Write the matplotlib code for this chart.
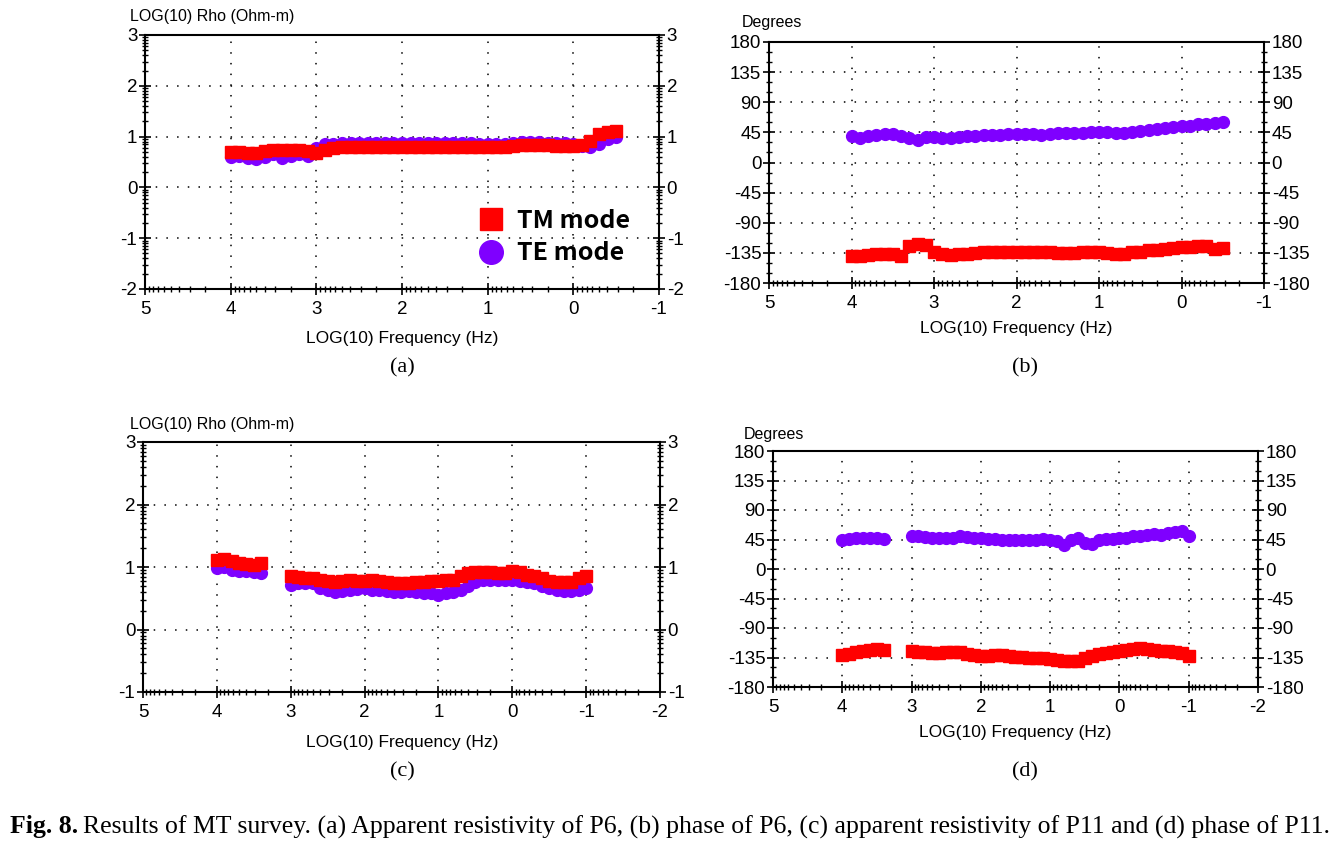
import numpy as np
import matplotlib
matplotlib.use("Agg")
import matplotlib.pyplot as plt
from matplotlib.lines import Line2D

plt.rcParams['font.family'] = 'Liberation Sans'
plt.rcParams['axes.unicode_minus'] = False

W, H = 1339, 842

# ---- station P6 : panels (a) and (b) ----
freq_p6 = [4.0, 3.9, 3.8, 3.7, 3.6, 3.5, 3.4, 3.3, 3.2, 3.1,
           3.0, 2.9, 2.8, 2.7, 2.6, 2.5, 2.4, 2.3, 2.2, 2.1,
           2.0, 1.9, 1.8, 1.7, 1.6, 1.5, 1.4, 1.3, 1.2, 1.1,
           1.0, 0.9, 0.8, 0.7, 0.6, 0.5, 0.4, 0.3, 0.2, 0.1,
           0.0, -0.1, -0.2, -0.3, -0.4, -0.5]
rho_tm_p6 = [0.70, 0.70, 0.68, 0.68, 0.72, 0.74, 0.74, 0.74, 0.74, 0.72,
             0.68, 0.74, 0.78, 0.80, 0.80, 0.80, 0.80, 0.80, 0.79, 0.80,
             0.80, 0.80, 0.79, 0.79, 0.79, 0.79, 0.79, 0.79, 0.79, 0.79,
             0.79, 0.80, 0.80, 0.82, 0.84, 0.84, 0.84, 0.84, 0.82, 0.82,
             0.82, 0.84, 0.92, 1.05, 1.10, 1.12]
rho_te_p6 = [0.60, 0.62, 0.58, 0.55, 0.60, 0.65, 0.58, 0.62, 0.66, 0.62,
             0.78, 0.86, 0.86, 0.87, 0.87, 0.88, 0.88, 0.88, 0.87, 0.88,
             0.88, 0.87, 0.88, 0.88, 0.88, 0.87, 0.87, 0.87, 0.87, 0.86,
             0.86, 0.85, 0.85, 0.88, 0.89, 0.90, 0.89, 0.88, 0.88, 0.87,
             0.86, 0.82, 0.80, 0.86, 0.95, 1.00]
phs_tm_p6 = [-140, -139, -138, -137, -137, -137, -139, -124, -121, -123,
             -133, -137, -138, -137, -136, -135, -134, -134, -134, -134,
             -134, -133, -134, -133, -134, -135, -135, -135, -134, -133,
             -134, -135, -137, -136, -134, -133, -131, -130, -129, -127,
             -126, -126, -124, -125, -129, -128]
phs_te_p6 = [40, 36, 39, 41, 43, 43, 40, 36, 33, 38,
             38, 37, 37, 38, 39, 40, 41, 41, 41, 42,
             42, 42, 43, 41, 43, 44, 44, 44, 44, 45,
             45, 45, 44, 44, 45, 47, 49, 50, 51, 53,
             54, 55, 57, 58, 59, 60]

# ---- station P11 : panels (c) and (d) ----
freq_p11 = [4.0, 3.9, 3.8, 3.7, 3.6, 3.5, 3.4,
            3.0, 2.9, 2.8, 2.7, 2.6, 2.5, 2.4, 2.3, 2.2, 2.1,
            2.0, 1.9, 1.8, 1.7, 1.6, 1.5, 1.4, 1.3, 1.2, 1.1,
            1.0, 0.9, 0.8, 0.7, 0.6, 0.5, 0.4, 0.3, 0.2, 0.1,
            0.0, -0.1, -0.2, -0.3, -0.4, -0.5, -0.6, -0.7, -0.8, -0.9,
            -1.0]
rho_tm_p11 = [1.12, 1.13, 1.10, 1.06, 1.05, 1.03, 1.06,
              0.86, 0.84, 0.82, 0.82, 0.80, 0.77, 0.76, 0.78, 0.79, 0.78,
              0.78, 0.79, 0.78, 0.76, 0.75, 0.75, 0.75, 0.76, 0.76, 0.77,
              0.78, 0.80, 0.80, 0.86, 0.90, 0.92, 0.92, 0.92, 0.91, 0.91,
              0.94, 0.92, 0.88, 0.86, 0.82, 0.78, 0.76, 0.76, 0.76, 0.82,
              0.86]
rho_te_p11 = [0.98, 1.00, 0.96, 0.94, 0.93, 0.92, 0.90,
              0.72, 0.74, 0.75, 0.74, 0.66, 0.63, 0.60, 0.62, 0.64, 0.65,
              0.66, 0.64, 0.63, 0.62, 0.60, 0.60, 0.61, 0.60, 0.59, 0.58,
              0.56, 0.58, 0.60, 0.64, 0.70, 0.76, 0.80, 0.80, 0.80, 0.80,
              0.80, 0.78, 0.76, 0.74, 0.70, 0.66, 0.64, 0.62, 0.62, 0.64,
              0.66]
phs_tm_p11 = [-131, -129, -126, -125, -124, -122, -123,
              -125, -126, -127, -128, -128, -127, -127, -127, -129, -131,
              -132, -132, -131, -131, -133, -134, -134, -135, -135, -135,
              -137, -139, -140, -141, -140, -136, -133, -130, -128, -126,
              -125, -123, -122, -120, -122, -124, -125, -125, -126, -128,
              -133]
phs_te_p11 = [45, 46, 48, 47, 48, 48, 46,
              50, 50, 49, 48, 48, 47, 48, 50, 49, 48,
              47, 46, 46, 45, 44, 45, 45, 44, 45, 46,
              45, 42, 36, 45, 48, 40, 38, 44, 46, 46,
              47, 48, 50, 51, 52, 53, 52, 55, 56, 58,
              50]

TM_COLOR = '#ff0000'
TE_COLOR = '#7f00ff'

fig = plt.figure(figsize=(W / 100, H / 100), dpi=100)


def px_axes(left, top, right, bottom):
    return fig.add_axes([left / W, 1 - bottom / H, (right - left) / W, (bottom - top) / H])


def log_minor(lo, hi):
    out = []
    for n in range(int(np.floor(lo)), int(np.ceil(hi))):
        for k in range(2, 10):
            out.append(n + np.log10(k))
    return out


def style(ax, xlim, ylim, yticks, yminor):
    ax.set_xlim(xlim)
    ax.set_ylim(ylim)
    lo, hi = min(xlim), max(xlim)
    ax.set_xticks(range(int(lo), int(hi) + 1))
    ax.set_xticks(log_minor(lo, hi), minor=True)
    ax.set_yticks(yticks)
    ax.set_yticks(yminor, minor=True)
    ax.grid(True, which='major', color='k', linestyle=(0, (1, 6)), linewidth=1.1)
    ax.tick_params(which='both', direction='inout', left=True, right=True,
                   labelleft=True, labelright=True, top=False, labelsize=13.5,
                   pad=1, colors='k')
    ax.tick_params(which='major', length=9, width=1.2)
    ax.tick_params(which='minor', length=5, width=1.0)
    ax.tick_params(axis='x', pad=4)
    for s in ax.spines.values():
        s.set_linewidth(1.5)
        s.set_color('k')


def plot_pair(ax, x, tm, te):
    ax.plot(x, te, 'o', color=TE_COLOR, ms=8.5, mec=TE_COLOR, zorder=3)
    ax.plot(x, tm, 's', color=TM_COLOR, ms=8.5, mec=TM_COLOR, zorder=4)


rho_ticks_a = [-2, -1, 0, 1, 2, 3]
rho_ticks_c = [-1, 0, 1, 2, 3]
phs_ticks = [-180, -135, -90, -45, 0, 45, 90, 135, 180]
phs_minor = list(range(-165, 180, 15))

# (a)
ax_a = px_axes(145, 35, 659, 289)
plot_pair(ax_a, freq_p6, rho_tm_p6, rho_te_p6)
style(ax_a, (5, -1), (-2, 3), rho_ticks_a, log_minor(-2, 3))

# (b)
ax_b = px_axes(769, 42, 1264, 283)
plot_pair(ax_b, freq_p6, phs_tm_p6, phs_te_p6)
style(ax_b, (5, -1), (-180, 180), phs_ticks, phs_minor)

# (c)
ax_c = px_axes(143, 442, 660, 692)
plot_pair(ax_c, freq_p11, rho_tm_p11, rho_te_p11)
style(ax_c, (5, -2), (-1, 3), rho_ticks_c, log_minor(-1, 3))

# (d)
ax_d = px_axes(773, 451, 1258, 687)
plot_pair(ax_d, freq_p11, phs_tm_p11, phs_te_p11)
style(ax_d, (5, -2), (-180, 180), phs_ticks, phs_minor)

# axis titles as in the original software
lab = dict(fontsize=11.5, va='center', ha='left')
fig.text(130 / W, 1 - 17 / H, 'LOG(10) Rho (Ohm-m)', **lab)
fig.text(742 / W, 1 - 22 / H, 'Degrees', **lab)
fig.text(130 / W, 1 - 424 / H, 'LOG(10) Rho (Ohm-m)', **lab)
fig.text(744 / W, 1 - 434 / H, 'Degrees', **lab)

xl = dict(fontsize=12.5, va='center', ha='center')
fig.text(402 / W, 1 - 338 / H, 'LOG(10) Frequency (Hz)', **xl)
fig.text(1016 / W, 1 - 328 / H, 'LOG(10) Frequency (Hz)', **xl)
fig.text(402 / W, 1 - 742 / H, 'LOG(10) Frequency (Hz)', **xl)
fig.text(1015 / W, 1 - 732 / H, 'LOG(10) Frequency (Hz)', **xl)

sub = dict(fontsize=16, va='center', ha='center', family='Liberation Serif')
fig.text(402 / W, 1 - 368 / H, '(a)', **sub)
fig.text(1025 / W, 1 - 368 / H, '(b)', **sub)
fig.text(402 / W, 1 - 772 / H, '(c)', **sub)
fig.text(1025 / W, 1 - 772 / H, '(d)', **sub)

# legend in panel (a)
handles = [Line2D([], [], ls='none', marker='s', color=TM_COLOR, ms=16),
           Line2D([], [], ls='none', marker='o', color=TE_COLOR, ms=17)]
ax_a.legend(handles, ['TM mode', 'TE mode'], loc='upper left',
            bbox_to_anchor=(466 / W, 1 - 196 / H), bbox_transform=fig.transFigure,
            frameon=False, borderpad=0, handlelength=1.0, handletextpad=0.55,
            labelspacing=0.35,
            prop=dict(family='Noto Sans CJK KR', weight='bold', size=18))

# caption
cy = 1 - 827 / H
t1 = fig.text(10 / W, cy, 'Fig. 8.', family='Liberation Serif', weight='bold',
              fontsize=18.5, va='center', ha='left')
fig.canvas.draw()
bb = t1.get_window_extent()
fig.text((bb.x1 + 5) / W, cy,
         'Results of MT survey. (a) Apparent resistivity of P6, (b) phase of P6, '
         '(c) apparent resistivity of P11 and (d) phase of P11.',
         family='Liberation Serif', fontsize=18.5, va='center', ha='left')

fig.savefig('out.png', dpi=100)
